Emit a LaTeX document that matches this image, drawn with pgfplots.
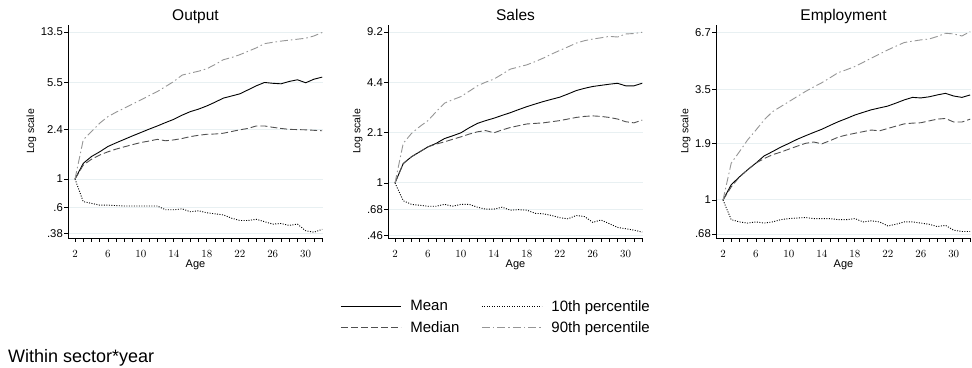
\documentclass[border=0pt]{standalone}
\usepackage{fontspec}
\setmainfont{Liberation Sans}
\usepackage{pgfplots}
\usepackage{pgfplotstable}
\pgfplotsset{compat=1.18}
\definecolor{gridc}{RGB}{232,240,242}
\definecolor{medc}{RGB}{80,80,80}
\definecolor{pninety}{RGB}{150,150,150}

\pgfplotstableread{
age mean median pten pninety
2 1 1 1 1
3 1.32 1.28 0.67 2.0
4 1.49 1.42 0.65 2.32
5 1.62 1.53 0.63 2.69
6 1.78 1.62 0.63 3.02
7 1.90 1.70 0.625 3.27
8 2.02 1.77 0.62 3.51
9 2.15 1.84 0.62 3.78
10 2.28 1.91 0.62 4.06
11 2.42 1.96 0.62 4.38
12 2.56 2.02 0.62 4.71
13 2.72 1.97 0.58 5.15
14 2.88 2.00 0.58 5.63
15 3.10 2.05 0.59 6.30
16 3.30 2.12 0.56 6.53
17 3.45 2.17 0.57 6.75
18 3.65 2.21 0.55 7.05
19 3.90 2.22 0.54 7.60
20 4.19 2.25 0.53 8.27
21 4.35 2.32 0.50 8.60
22 4.52 2.39 0.48 9.04
23 4.85 2.45 0.48 9.60
24 5.21 2.56 0.49 10.2
25 5.53 2.56 0.47 11.0
26 5.45 2.50 0.45 11.25
27 5.40 2.45 0.455 11.5
28 5.63 2.41 0.44 11.7
29 5.80 2.40 0.45 11.9
30 5.50 2.39 0.40 12.1
31 5.86 2.37 0.39 12.6
32 6.08 2.35 0.41 13.4
}\outputdata

\pgfplotstableread{
age mean median pten pninety
2 1 1 1 1
3 1.33 1.33 0.77 1.79
4 1.47 1.47 0.73 2.07
5 1.58 1.58 0.72 2.29
6 1.70 1.70 0.71 2.50
7 1.79 1.77 0.71 2.85
8 1.92 1.83 0.73 3.23
9 2.00 1.90 0.71 3.40
10 2.09 1.97 0.73 3.56
11 2.25 2.05 0.73 3.85
12 2.40 2.12 0.70 4.17
13 2.50 2.16 0.68 4.40
14 2.59 2.09 0.68 4.60
15 2.70 2.18 0.70 4.95
16 2.81 2.26 0.67 5.33
17 2.94 2.32 0.675 5.50
18 3.07 2.38 0.67 5.68
19 3.19 2.40 0.64 5.95
20 3.31 2.42 0.635 6.27
21 3.42 2.46 0.62 6.65
22 3.53 2.50 0.60 7.02
23 3.70 2.56 0.59 7.40
24 3.89 2.62 0.62 7.82
25 4.02 2.66 0.61 8.10
26 4.13 2.68 0.56 8.30
27 4.20 2.66 0.58 8.45
28 4.27 2.62 0.55 8.63
29 4.33 2.56 0.52 8.55
30 4.17 2.46 0.51 8.94
31 4.17 2.42 0.50 9.00
32 4.33 2.52 0.485 9.16
}\salesdata

\pgfplotstableread{
age mean median pten pninety
2 1 1 1 1
3 1.19 1.16 0.80 1.52
4 1.30 1.30 0.78 1.73
5 1.41 1.41 0.77 1.98
6 1.52 1.52 0.78 2.21
7 1.65 1.60 0.77 2.48
8 1.73 1.67 0.78 2.72
9 1.82 1.72 0.80 2.88
10 1.90 1.78 0.81 3.05
11 1.99 1.84 0.815 3.23
12 2.07 1.90 0.82 3.42
13 2.15 1.93 0.81 3.60
14 2.23 1.89 0.81 3.78
15 2.33 1.96 0.81 4.00
16 2.43 2.04 0.80 4.24
17 2.52 2.09 0.80 4.38
18 2.62 2.13 0.81 4.54
19 2.70 2.17 0.78 4.76
20 2.78 2.21 0.79 4.99
21 2.84 2.19 0.78 5.23
22 2.90 2.25 0.745 5.48
23 3.00 2.31 0.76 5.72
24 3.11 2.37 0.78 5.96
25 3.20 2.39 0.78 6.05
26 3.18 2.40 0.77 6.14
27 3.22 2.45 0.76 6.20
28 3.29 2.50 0.74 6.38
29 3.35 2.52 0.75 6.62
30 3.25 2.42 0.71 6.57
31 3.20 2.42 0.70 6.42
32 3.29 2.50 0.70 6.75
}\empdata

\pgfplotsset{
 mypanel/.style={
  scale only axis, width=255bp, height=213bp,
  anchor=south west,
  xmin=1.15, xmax=32.1,
  axis lines=left, axis line style={-, line width=0.9bp, black},
  xtick={2,6,...,30}, minor xtick={2,...,32},
  tick align=outside, major tick length=4bp, minor tick length=4bp,
  tick style={black, line width=0.8bp},
  ymajorgrids, major grid style={gridc, line width=1bp},
  xticklabel style={font=\fontsize{11.3bp}{13bp}\selectfont, inner sep=0pt, yshift=-8bp},
  yticklabel style={font=\fontsize{11.3bp}{13bp}\selectfont, inner sep=1bp},
  xlabel=Age,
  xlabel style={font=\fontsize{11bp}{13bp}\selectfont, at={(axis description cs:0.5,0)}, anchor=center, yshift=-27bp},
  ylabel=Log scale,
  ylabel style={font=\fontsize{10.5bp}{12bp}\selectfont},
  title style={font=\fontsize{15.5bp}{18bp}\selectfont, at={(axis description cs:0.5,1)}, anchor=base, yshift=-1bp, inner sep=0pt},
 },
 meanl/.style={black, line width=0.9bp},
 medl/.style={medc, line width=0.9bp, dash pattern=on 7bp off 3bp},
 p10l/.style={black, line width=0.9bp, dash pattern=on 1bp off 1.5bp},
 p90l/.style={pninety, line width=0.9bp, dash pattern=on 8bp off 3bp on 1.5bp off 3bp},
}

\begin{document}
\begin{tikzpicture}
\useasboundingbox (0,0) rectangle (972bp,368bp);

\begin{axis}[ymode=log, mypanel, at={(68bp,130bp)}, title=Output,
  ymin=0.352, ymax=15.3,
  ytick={0.38,0.6,1,2.4,5.5,13.5}, yticklabels={.38,.6,1,2.4,5.5,13.5}]
\addplot[meanl] table[x=age,y=mean]{\outputdata};
\addplot[p10l] table[x=age,y=pten]{\outputdata};
\addplot[medl] table[x=age,y=median]{\outputdata};
\addplot[p90l] table[x=age,y=pninety]{\outputdata};
\end{axis}

\begin{axis}[ymode=log, mypanel, at={(388bp,130bp)}, title=Sales,
  ymin=0.445, ymax=10.2,
  ytick={0.46,0.68,1,2.1,4.4,9.2}, yticklabels={.46,.68,1,2.1,4.4,9.2},
  legend columns=2,
  legend cell align=left,
  legend image code/.code={\draw[#1] (0bp,0bp) -- (60bp,0bp);},
  legend style={at={(axis description cs:0.424,-0.371)}, anchor=center, draw=none, fill=none,
    font=\fontsize{15bp}{17bp}\selectfont, row sep=5bp,
    /tikz/every odd column/.append style={column sep=7bp},
    /tikz/every even column/.append style={column sep=20bp}}]
\addplot[meanl] table[x=age,y=mean]{\salesdata};
\addlegendentry{Mean}
\addplot[p10l] table[x=age,y=pten]{\salesdata};
\addlegendentry{10th percentile}
\addplot[medl] table[x=age,y=median]{\salesdata};
\addlegendentry{Median}
\addplot[p90l] table[x=age,y=pninety]{\salesdata};
\addlegendentry{90th percentile}
\end{axis}

\begin{axis}[ymode=log, mypanel, at={(716bp,130bp)}, title=Employment,
  ymin=0.65, ymax=7.27,
  ytick={0.68,1,1.9,3.5,6.7}, yticklabels={.68,1,1.9,3.5,6.7}]
\addplot[meanl] table[x=age,y=mean]{\empdata};
\addplot[p10l] table[x=age,y=pten]{\empdata};
\addplot[medl] table[x=age,y=median]{\empdata};
\addplot[p90l] table[x=age,y=pninety]{\empdata};
\end{axis}

\node[anchor=base west, font=\fontsize{18bp}{20bp}\selectfont, inner sep=0pt] at (8bp,6bp) {Within sector*year};
\end{tikzpicture}
\end{document}
